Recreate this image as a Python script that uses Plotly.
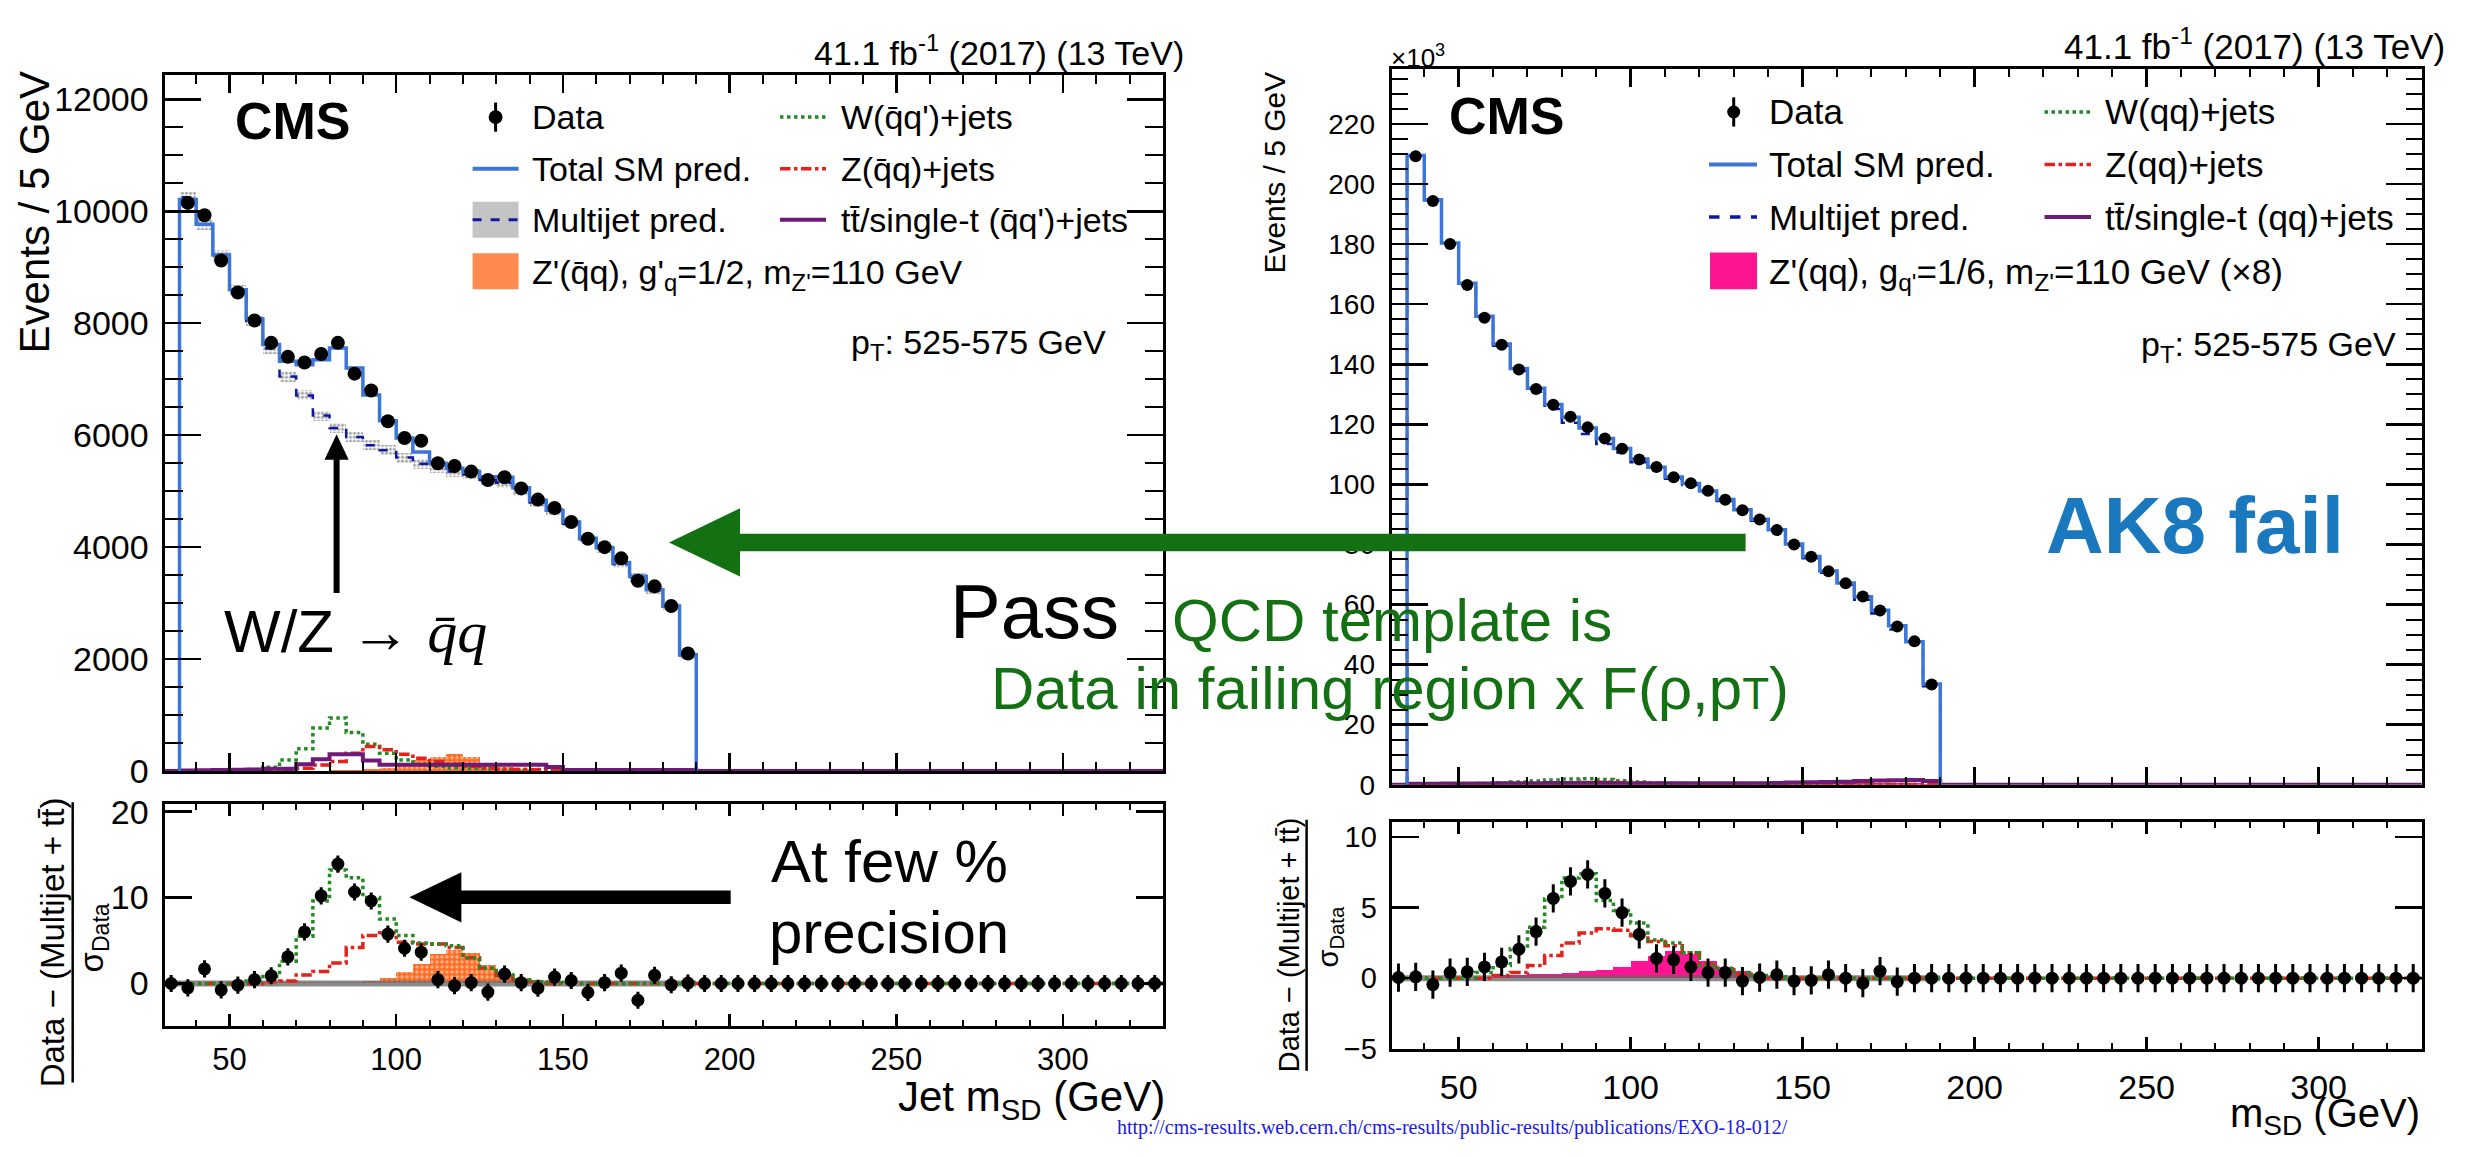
import numpy as np
import plotly.graph_objects as go

FONT = "Liberation Sans, Arial, Helvetica, sans-serif"
SERIF = "Liberation Serif, Times New Roman, serif"
W_PX, H_PX = 2489, 1156
BIN = 5

# ---------------- data ----------------
mass_lo = list(range(35, 190, BIN))          # populated bins 35-190 GeV (31 bins)
mass_ratio_lo = list(range(30, 330, BIN))    # bins used in the ratio panels (60 bins)

# Pass region (events / 5 GeV)
pass_data = [10150, 9930, 9120, 8550, 8050, 7650, 7400, 7300, 7450, 7650, 7100, 6800,
             6250, 5950, 5900, 5500, 5450, 5350, 5200, 5250, 5050, 4850, 4700, 4450,
             4150, 4000, 3800, 3400, 3300, 2950, 2100]
pass_total = [10210, 9770, 9220, 8600, 8080, 7620, 7320, 7260, 7350, 7560, 7200, 6720,
              6260, 5950, 5700, 5500, 5410, 5350, 5260, 5250, 5060, 4840, 4660, 4450,
              4160, 3990, 3720, 3480, 3240, 2950, 2080]
pass_multijet = [10250, 9760, 9210, 8580, 8040, 7550, 7050, 6710, 6350, 6130, 5970, 5820,
                 5730, 5600, 5490, 5420, 5350, 5300, 5200, 5150, 5000, 4800, 4640, 4420,
                 4140, 3970, 3700, 3460, 3230, 2940, 2070]
pass_multijet_unc = [100, 100, 100, 95, 95, 95, 95, 90, 90, 90, 90, 90, 90, 90, 90, 90,
                     90, 90, 85, 85, 85, 85, 80, 80, 80, 75, 75, 75, 70, 70, 60]
pass_w = [5, 5, 10, 15, 30, 70, 200, 400, 770, 950, 690, 480, 320, 200, 120, 80,
          60, 45, 40, 35, 30, 30, 25, 25, 20, 20, 20, 20, 15, 15, 15]
pass_z = [2, 2, 3, 5, 10, 20, 30, 50, 110, 170, 320, 440, 380, 300, 230, 170,
          120, 80, 50, 35, 30, 25, 20, 15, 15, 15, 15, 10, 10, 10, 10]
pass_top = [10, 15, 20, 25, 30, 40, 40, 120, 210, 300, 300, 190, 115, 115, 115, 115,
            115, 115, 115, 115, 115, 115, 75, 20, 20, 20, 20, 20, 20, 20, 20]
pass_zprime = [10, 10, 10, 10, 10, 10, 10, 10, 10, 15, 20, 30, 50, 130, 200, 260,
               300, 250, 150, 70, 30, 10, 5, 5, 5, 5, 5, 5, 5, 5, 5]

# Fail region (10^3 events / 5 GeV)
fail_data = [209.3, 194.4, 180.1, 166.4, 155.5, 146.5, 138.3, 131.8, 126.5, 122.5, 119.0,
             115.3, 111.9, 108.3, 105.8, 102.4, 100.4, 97.9, 94.9, 91.4, 88.3, 84.8,
             80.0, 75.9, 71.1, 67.1, 62.7, 58.0, 52.7, 47.8, 33.4]
fail_total = [209.5, 194.8, 180.4, 167.0, 156.0, 146.8, 138.6, 132.0, 126.6, 122.4, 118.8,
              115.3, 112.0, 108.5, 105.7, 102.5, 100.3, 97.8, 95.0, 91.6, 88.4, 84.9,
              80.2, 76.0, 71.2, 67.2, 62.6, 58.1, 52.9, 47.6, 33.5]
fail_multijet = [209.3, 194.6, 180.2, 166.7, 155.6, 146.2, 137.8, 130.9, 125.1, 120.5, 116.8,
                 113.5, 110.6, 107.4, 104.9, 101.9, 99.8, 97.3, 94.5, 91.1, 87.9, 84.4,
                 79.7, 75.4, 70.6, 66.6, 61.6, 57.0, 51.7, 46.6, 32.8]
fail_w = [0.1, 0.1, 0.2, 0.3, 0.4, 0.6, 0.9, 1.2, 1.6, 1.9, 2.0, 1.7, 1.3, 0.9, 0.6, 0.4,
          0.3, 0.3, 0.2, 0.2, 0.2, 0.2, 0.2, 0.1, 0.1, 0.1, 0.1, 0.1, 0.1, 0.1, 0.1]
fail_z = [0.0, 0.0, 0.1, 0.1, 0.1, 0.2, 0.2, 0.3, 0.4, 0.5, 0.7, 0.8, 0.7, 0.6, 0.5, 0.4,
          0.3, 0.2, 0.1, 0.1, 0.1, 0.1, 0.1, 0.1, 0.1, 0.1, 0.1, 0.1, 0.1, 0.1, 0.1]
fail_top = [0.3, 0.3, 0.4, 0.4, 0.4, 0.5, 0.5, 0.5, 0.6, 0.6, 0.6, 0.6, 0.5, 0.5, 0.5, 0.5,
            0.5, 0.5, 0.5, 0.5, 0.5, 0.6, 0.7, 0.8, 0.9, 1.0, 1.2, 1.4, 1.5, 1.6, 1.2]
fail_zprime = [0.2, 0.2, 0.2, 0.3, 0.3, 0.3, 0.3, 0.4, 0.4, 0.5, 0.5, 0.6, 0.6, 0.7, 0.7, 0.7,
               0.6, 0.6, 0.5, 0.5, 0.5, 0.5, 0.5, 0.5, 0.5, 0.5, 0.5, 0.5, 0.5, 0.5, 0.4]

# Ratio panels: (Data - (Multijet + tt)) / sigma_Data, 60 bins 30-330 GeV
ratio_pass_data = [0.0, -0.5, 1.7, -0.75, -0.2, 0.45, 0.9, 3.1, 6.0, 10.2, 13.9, 10.65,
                   9.6, 5.75, 4.1, 3.65, 0.45, -0.25, 0.1, -1.0, 1.1, 0.1, -0.55, 0.75,
                   0.35, -1.05, 0.1, 1.2, -1.95, 0.95, -0.15, 0.05] + [0.0] * 28
ratio_pass_w = [0, 0, 0, 0, 0.1, 0.3, 0.8, 2.6, 5.5, 9.6, 13.2, 12.3, 10.0, 7.5, 5.6, 4.7,
                4.6, 4.4, 3.0, 1.8, 1.0, 0.4, 0.2, 0.1] + [0.0] * 36
ratio_pass_z = [0, 0, 0, 0, 0, 0, 0.2, 0.3, 1.0, 1.4, 2.4, 4.2, 5.6, 5.9, 4.8, 4.6,
                4.6, 4.2, 3.0, 1.8, 0.9, 0.4, 0.2] + [0.0] * 37
ratio_pass_zprime = [0, 0, 0, 0, 0, 0, 0.2, 0.2, 0.2, 0.2, 0.2, 0.2, 0.3, 0.6, 1.3, 2.3,
                     3.4, 3.9, 3.5, 2.2, 1.1, 0.5, 0.2] + [0.0] * 37
ratio_fail_data = [0.05, 0.1, -0.45, 0.4, 0.45, 0.8, 1.15, 2.05, 3.3, 5.65, 6.85, 7.35,
                   6.0, 4.65, 3.1, 1.4, 1.3, 0.8, 0.4, 0.4, -0.2, 0.05, 0.25, -0.2,
                   -0.15, 0.25, 0.0, -0.35, 0.5, -0.25, 0.0, 0.0] + [0.0] * 28
ratio_fail_w = [0, 0, 0, 0, 0, 0.4, 0.9, 2.1, 3.6, 5.6, 7.1, 7.4, 5.5, 4.8, 3.9, 2.7,
                2.5, 1.8, 0.9, 0.7, 0.4, 0.2, 0.1] + [0.0] * 37
ratio_fail_z = [0, 0, 0, 0, 0, 0, 0.2, 0.4, 0.9, 1.6, 2.5, 3.2, 3.5, 3.4, 3.0, 2.6,
                2.3, 1.8, 1.0, 0.6, 0.3, 0.1] + [0.0] * 38
ratio_fail_zprime = [0, 0, 0, 0, 0, 0.1, 0.2, 0.2, 0.3, 0.3, 0.4, 0.5, 0.6, 0.8, 1.2, 1.6,
                     1.9, 1.7, 1.2, 0.8, 0.5, 0.3, 0.15, 0.05] + [0.0] * 36
ratio_band = [0.0] * 32   # multijet uncertainty band (30-190 GeV)

# ---------------- colours ----------------
C_TOTAL = "#3b76d8"
C_MJ = "#0c1aa0"
C_W = "#228b22"
C_Z = "#e3221b"
C_TOP = "#6e1a78"
C_ZP_PASS = "#ff6a1f"
C_ZP_FAIL = "#ff1493"
C_GREEN = "#137013"
C_AK8 = "#1a78be"


def px(x):
    return x / W_PX


def py(y):
    return 1 - y / H_PX


def hist_step(lo, vals, x_min=None, x_max=None):
    xs = [lo[0]] + list(lo) + [lo[-1] + BIN]
    ys = [0] + list(vals) + [0]
    if x_min is not None:
        xs = [x_min] + xs
        ys = [0] + ys
    if x_max is not None:
        xs = xs + [x_max]
        ys = ys + [0]
    return xs, ys


def ratio_step(lo, vals):
    return list(lo) + [lo[-1] + BIN], list(vals) + [vals[-1]]


centers = [m + BIN / 2 for m in mass_lo]
ratio_centers = [m + BIN / 2 for m in mass_ratio_lo]
XMIN, XMAX = 30.5, 330

fig = go.Figure()

# ---------- left top (pass) ----------
fig.add_trace(go.Bar(x=centers, y=pass_zprime, width=BIN, xaxis="x", yaxis="y",
                     marker=dict(color=C_ZP_PASS, line=dict(width=0),
                                 pattern=dict(shape=".", fgcolor="white", size=5, solidity=0.35))))
fig.add_trace(go.Bar(x=centers, y=[2 * u for u in pass_multijet_unc],
                     base=[m - u for m, u in zip(pass_multijet, pass_multijet_unc)],
                     width=BIN, xaxis="x", yaxis="y",
                     marker=dict(color="rgba(255,255,255,0.5)", line=dict(width=0),
                                 pattern=dict(shape=".", fgcolor="#333333", bgcolor="rgba(255,255,255,0.5)",
                                              size=4, solidity=0.45))))
xs, ys = hist_step(mass_lo, pass_multijet)
fig.add_trace(go.Scatter(x=xs, y=ys, mode="lines", line=dict(color=C_MJ, width=2.5, dash="dash", shape="hv"),
                         xaxis="x", yaxis="y"))
xs, ys = hist_step(mass_lo, pass_w)
fig.add_trace(go.Scatter(x=xs, y=ys, mode="lines", line=dict(color=C_W, width=3.5, dash="dot", shape="hv"),
                         xaxis="x", yaxis="y"))
xs, ys = hist_step(mass_lo, pass_z)
fig.add_trace(go.Scatter(x=xs, y=ys, mode="lines", line=dict(color=C_Z, width=3.5, dash="dashdot", shape="hv"),
                         xaxis="x", yaxis="y"))
xs, ys = hist_step(mass_lo, pass_top, XMIN, XMAX)
fig.add_trace(go.Scatter(x=xs, y=ys, mode="lines", line=dict(color=C_TOP, width=4, shape="hv"),
                         xaxis="x", yaxis="y"))
xs, ys = hist_step(mass_lo, pass_total)
fig.add_trace(go.Scatter(x=xs, y=ys, mode="lines", line=dict(color=C_TOTAL, width=3.5, shape="hv"),
                         xaxis="x", yaxis="y"))
fig.add_trace(go.Scatter(x=centers, y=pass_data, mode="markers", xaxis="x", yaxis="y",
                         marker=dict(color="black", size=14),
                         error_y=dict(type="data", array=list(np.sqrt(pass_data)), color="black",
                                      thickness=3, width=0)))

# ---------- left ratio ----------
fig.add_trace(go.Bar(x=ratio_centers, y=ratio_pass_zprime, width=BIN, xaxis="x2", yaxis="y2",
                     marker=dict(color=C_ZP_PASS, line=dict(width=0),
                                 pattern=dict(shape=".", fgcolor="white", size=5, solidity=0.35))))
xs, ys = ratio_step(mass_ratio_lo[:32], ratio_band)
fig.add_trace(go.Scatter(x=xs, y=ys, mode="lines", line=dict(color="rgba(100,100,100,0.75)", width=6),
                         xaxis="x2", yaxis="y2"))
xs, ys = ratio_step(mass_ratio_lo, ratio_pass_z)
fig.add_trace(go.Scatter(x=xs, y=ys, mode="lines", line=dict(color=C_Z, width=3.5, dash="dashdot", shape="hv"),
                         xaxis="x2", yaxis="y2"))
xs, ys = ratio_step(mass_ratio_lo, ratio_pass_w)
fig.add_trace(go.Scatter(x=xs, y=ys, mode="lines", line=dict(color=C_W, width=3.5, dash="dot", shape="hv"),
                         xaxis="x2", yaxis="y2"))
fig.add_trace(go.Scatter(x=ratio_centers, y=ratio_pass_data, mode="markers", xaxis="x2", yaxis="y2",
                         marker=dict(color="black", size=13),
                         error_y=dict(type="constant", value=1, color="black", thickness=3, width=0)))

# ---------- right top (fail) ----------
fig.add_trace(go.Bar(x=centers, y=fail_zprime, width=BIN, xaxis="x3", yaxis="y3",
                     marker=dict(color=C_ZP_FAIL, line=dict(width=0))))
xs, ys = hist_step(mass_lo, fail_multijet)
fig.add_trace(go.Scatter(x=xs, y=ys, mode="lines", line=dict(color=C_MJ, width=2.5, dash="dash", shape="hv"),
                         xaxis="x3", yaxis="y3"))
xs, ys = hist_step(mass_lo, fail_w)
fig.add_trace(go.Scatter(x=xs, y=ys, mode="lines", line=dict(color=C_W, width=3.5, dash="dot", shape="hv"),
                         xaxis="x3", yaxis="y3"))
xs, ys = hist_step(mass_lo, fail_z)
fig.add_trace(go.Scatter(x=xs, y=ys, mode="lines", line=dict(color=C_Z, width=3.5, dash="dashdot", shape="hv"),
                         xaxis="x3", yaxis="y3"))
xs, ys = hist_step(mass_lo, fail_top, XMIN, XMAX)
fig.add_trace(go.Scatter(x=xs, y=ys, mode="lines", line=dict(color=C_TOP, width=4, shape="hv"),
                         xaxis="x3", yaxis="y3"))
xs, ys = hist_step(mass_lo, fail_total)
fig.add_trace(go.Scatter(x=xs, y=ys, mode="lines", line=dict(color=C_TOTAL, width=3.5, shape="hv"),
                         xaxis="x3", yaxis="y3"))
fig.add_trace(go.Scatter(x=centers, y=fail_data, mode="markers", xaxis="x3", yaxis="y3",
                         marker=dict(color="black", size=12),
                         error_y=dict(type="data", array=list(np.sqrt(np.array(fail_data) / 1000.0)),
                                      color="black", thickness=3, width=0)))

# ---------- right ratio ----------
fig.add_trace(go.Bar(x=ratio_centers, y=ratio_fail_zprime, width=BIN, xaxis="x4", yaxis="y4",
                     marker=dict(color=C_ZP_FAIL, line=dict(width=0))))
xs, ys = ratio_step(mass_ratio_lo[:32], ratio_band)
fig.add_trace(go.Scatter(x=xs, y=ys, mode="lines", line=dict(color="rgba(100,100,100,0.75)", width=6),
                         xaxis="x4", yaxis="y4"))
xs, ys = ratio_step(mass_ratio_lo, ratio_fail_z)
fig.add_trace(go.Scatter(x=xs, y=ys, mode="lines", line=dict(color=C_Z, width=3.5, dash="dashdot", shape="hv"),
                         xaxis="x4", yaxis="y4"))
xs, ys = ratio_step(mass_ratio_lo, ratio_fail_w)
fig.add_trace(go.Scatter(x=xs, y=ys, mode="lines", line=dict(color=C_W, width=3.5, dash="dot", shape="hv"),
                         xaxis="x4", yaxis="y4"))
fig.add_trace(go.Scatter(x=ratio_centers, y=ratio_fail_data, mode="markers", xaxis="x4", yaxis="y4",
                         marker=dict(color="black", size=13),
                         error_y=dict(type="constant", value=1, color="black", thickness=3, width=0)))

# ---------------- axes ----------------
def axis(**kw):
    base = dict(showline=True, linecolor="black", linewidth=3, mirror="allticks", ticks="inside",
                tickcolor="black", tickwidth=2.5, showgrid=False, zeroline=False,
                tickformat="d", exponentformat="none",
                tickfont=dict(family=FONT, size=32, color="black"), fixedrange=True)
    base.update(kw)
    return base


LX = [px(164.5), px(1163)]
RX = [px(1391.6), px(2421.8)]
xminor = lambda L: dict(dtick=10, ticklen=L, tickwidth=2, ticks="inside", tickcolor="black", showgrid=False)

fig.update_layout(
    xaxis=axis(domain=LX, range=[XMIN, XMAX], anchor="y", showticklabels=False, tick0=0, dtick=50,
               ticklen=18, minor=xminor(9)),
    yaxis=axis(domain=[py(780), py(65)], range=[0, 12430], anchor="x", tick0=0, dtick=2000, ticklen=36,
               minor=dict(dtick=500, ticklen=18, tickwidth=2, ticks="inside", tickcolor="black", showgrid=False),
               tickfont=dict(family=FONT, size=34, color="black"), ticklabelstandoff=6),
    xaxis2=axis(domain=LX, range=[XMIN, XMAX], anchor="y2", tick0=0, dtick=50, ticklen=12, minor=xminor(6),
                tickfont=dict(family=FONT, size=31, color="black"), ticklabelstandoff=4),
    yaxis2=axis(domain=[py(1041.7), py(814.3)], range=[-4.92, 20.84], anchor="x2", tick0=0, dtick=10,
                ticklen=27, tickfont=dict(family=FONT, size=34, color="black"), ticklabelstandoff=6),
    xaxis3=axis(domain=RX, range=[XMIN, XMAX], anchor="y3", showticklabels=False, tick0=0, dtick=50,
                ticklen=18, minor=xminor(8)),
    yaxis3=axis(domain=[py(794), py(59)], range=[0, 238.2], anchor="x3", tick0=0, dtick=20, ticklen=36,
                minor=dict(dtick=5, ticklen=16, tickwidth=2, ticks="inside", tickcolor="black", showgrid=False),
                tickfont=dict(family=FONT, size=28, color="black"), ticklabelstandoff=8),
    xaxis4=axis(domain=RX, range=[XMIN, XMAX], anchor="y4", tick0=0, dtick=50, ticklen=12, minor=xminor(6),
                tickfont=dict(family=FONT, size=34, color="black"), ticklabelstandoff=6),
    yaxis4=axis(domain=[py(1065.7), py(832.3)], range=[-5.02, 11.06], anchor="x4", tick0=0, dtick=5,
                ticklen=27, tickfont=dict(family=FONT, size=29, color="black"), ticklabelstandoff=6),
)

# ---------------- annotations & decorations ----------------
ann = []
shapes = []


def text(t, x, y, size, xanchor="left", yanchor="middle", color="black", family=FONT, angle=0):
    ann.append(dict(text=t, x=px(x), y=py(y), xref="paper", yref="paper", showarrow=False,
                    xanchor=xanchor, yanchor=yanchor, textangle=angle,
                    font=dict(family=family, size=size, color=color)))


def hline(x0, x1, y, color, width, dash="solid"):
    shapes.append(dict(type="line", xref="paper", yref="paper", x0=px(x0), x1=px(x1), y0=py(y), y1=py(y),
                       line=dict(color=color, width=width, dash=dash), layer="above"))


def vline(x, y0, y1, color, width):
    shapes.append(dict(type="line", xref="paper", yref="paper", x0=px(x), x1=px(x), y0=py(y0), y1=py(y1),
                       line=dict(color=color, width=width), layer="above"))


def rect(x0, x1, y0, y1, color):
    shapes.append(dict(type="rect", xref="paper", yref="paper", x0=px(x0), x1=px(x1), y0=py(y1), y1=py(y0),
                       fillcolor=color, line=dict(width=0), layer="above"))


def dot(cx, cy, d):
    shapes.append(dict(type="circle", xref="paper", yref="paper", x0=px(cx - d / 2), x1=px(cx + d / 2),
                       y0=py(cy + d / 2), y1=py(cy - d / 2), fillcolor="black", line=dict(width=0), layer="above"))


def tri(points, color):
    path = "M " + " L ".join(f"{px(a):.6f},{py(b):.6f}" for a, b in points) + " Z"
    shapes.append(dict(type="path", xref="paper", yref="paper", path=path, fillcolor=color,
                       line=dict(width=0), layer="above"))


QB = "q\u0304"
TTB = "tt\u0304"

# headers
text("41.1 fb<sup>-1</sup> (2017) (13 TeV)", 1186, 40, 34, xanchor="right")
text("41.1 fb<sup>-1</sup> (2017) (13 TeV)", 2447, 33, 35, xanchor="right")
text("\u00d710<sup>3</sup>", 1389, 46, 26)
text("<b>CMS</b>", 233, 112, 52)
text("<b>CMS</b>", 1447, 107, 52)
text("Events / 5 GeV", 34, 206, 42, xanchor="center", angle=-90)
text("Events / 5 GeV", 1275, 165, 30, xanchor="center", angle=-90)

# left legend
LY = [108, 161, 213.5, 266.5]
dot(495.6, LY[0], 14)
vline(495.6, LY[0] - 15, LY[0] + 15, "black", 3)
hline(472.6, 518.6, LY[1], C_TOTAL, 4)
rect(472.6, 518.6, 195, 232, "#c4c4c4")
hline(472.6, 518.6, LY[2], C_MJ, 3, "dash")
rect(472.6, 518.6, 248, 285, "#ff8a50")
text("Data", 530, LY[0], 34)
text("Total SM pred.", 530, LY[1], 34)
text("Multijet pred.", 530, LY[2], 34)
text(f"Z'({QB}q), g'<sub>q</sub>=1/2, m<sub>Z'</sub>=110 GeV", 530, LY[3] + 3, 34)
hline(780, 826, LY[0], C_W, 3.5, "dot")
hline(780, 826, LY[1], C_Z, 3.5, "dashdot")
hline(780, 826, LY[2], C_TOP, 4)
text(f"W({QB}q')+jets", 839, LY[0], 34)
text(f"Z({QB}q)+jets", 839, LY[1], 34)
text(f"{TTB}/single-t ({QB}q')+jets", 839, LY[2], 34)
text("p<sub>T</sub>: 525-575 GeV", 1108, 342, 34, xanchor="right")

# right legend
RY = [102.7, 156.7, 210.7, 266]
dot(1733.7, RY[0], 13)
vline(1733.7, RY[0] - 15, RY[0] + 15, "black", 3)
hline(1709, 1757, RY[1], C_TOTAL, 4)
hline(1709, 1757, RY[2], C_MJ, 3.5, "dash")
rect(1710, 1757, 247, 285, C_ZP_FAIL)
text("Data", 1767, RY[0], 35)
text("Total SM pred.", 1767, RY[1], 35)
text("Multijet pred.", 1767, RY[2], 35)
text("Z'(qq), g<sub>q'</sub>=1/6, m<sub>Z'</sub>=110 GeV (\u00d78)", 1767, RY[3] + 3, 35)
hline(2044.5, 2091, RY[0], C_W, 3.5, "dot")
hline(2044.5, 2091, RY[1], C_Z, 3.5, "dashdot")
hline(2044.5, 2091, RY[2], C_TOP, 4)
text("W(qq)+jets", 2102.7, RY[0], 35)
text("Z(qq)+jets", 2102.7, RY[1], 35)
text(f"{TTB}/single-t (qq)+jets", 2102.7, RY[2], 35)
text("p<sub>T</sub>: 525-575 GeV", 2398, 344, 34, xanchor="right")

# ratio y titles
text(f"Data \u2212 (Multijet + {TTB})", 52, 956, 33, xanchor="center", angle=-90)
vline(72.7, 812, 1100, "black", 2.5)
text("\u03c3<sub>Data</sub>", 94, 951, 33, xanchor="center", angle=-90)
text(f"Data \u2212 (Multijet + {TTB})", 1289, 959, 29, xanchor="center", angle=-90)
vline(1306.6, 830, 1088, "black", 2.5)
text("\u03c3<sub>Data</sub>", 1330, 951, 29, xanchor="center", angle=-90)

# x titles
text("Jet m<sub>SD</sub> (GeV)", 1166.5, 1117, 42, xanchor="right")
text("m<sub>SD</sub> (GeV)", 2422, 1134, 40, xanchor="right")

# overlay text and arrows
text("<b>AK8 fail</b>", 2194.5, 528, 80, xanchor="center", color=C_AK8)
text("Pass", 948, 616, 76)
text("QCD template is", 1392, 625, 60, xanchor="center", color=C_GREEN)
text("Data in failing region x F(\u03c1,p<span style='font-size:44px'>T</span>)", 1389.5, 695, 60,
     xanchor="center", color=C_GREEN)
text(f"W/Z \u2192 <span style='font-family:Liberation Serif'><i>{QB}q</i></span>", 222, 636.5, 60)
text("At few %", 769, 873, 60)
text("precision", 767, 946, 60)
text("http://cms-results.web.cern.ch/cms-results/public-results/publications/EXO-18-012/",
     1115, 1146, 20, color="#1a1ae6", family=SERIF)

# green arrow
rect(738, 1745.6, 536, 554, C_GREEN)
tri([(669, 545), (740, 510), (740, 580)], C_GREEN)
# black up arrow
vline(336.6, 597, 456, "black", 6)
tri([(336.6, 434), (324.5, 460), (348.7, 460)], "black")
# black left arrow in ratio
rect(459, 730.7, 902.7, 916.7, "black")
tri([(409.3, 909.7), (461.4, 884), (461.4, 935.7)], "black")

fig.update_layout(
    annotations=ann, shapes=shapes,
    width=W_PX, height=H_PX, margin=dict(l=0, r=0, t=0, b=0),
    paper_bgcolor="white", plot_bgcolor="rgba(0,0,0,0)",
    showlegend=False, barmode="overlay", bargap=0, hovermode=False,
    font=dict(family=FONT, color="black"),
)

fig.write_html("out.html", config=dict(displayModeBar=False, staticPlot=True),
               post_script="document.body.style.margin='0';document.body.style.overflow='hidden';")
